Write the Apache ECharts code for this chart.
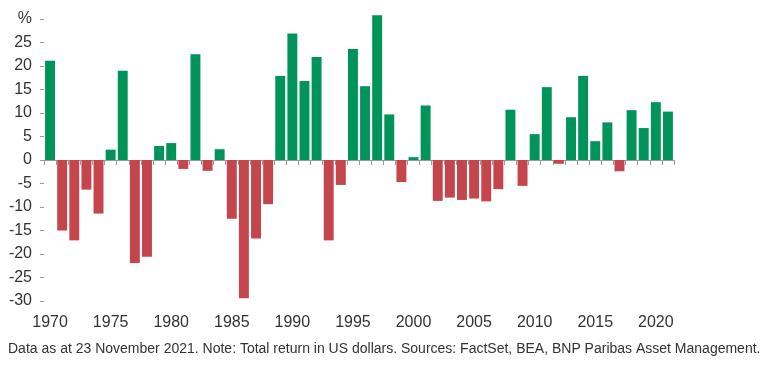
<!DOCTYPE html>
<html><head><meta charset="utf-8">
<script src="https://cdn.jsdelivr.net/npm/echarts@6/dist/echarts.min.js"></script>
<style>html,body{margin:0;padding:0;background:#fff}#c{width:774px;height:366px}</style>
</head><body><div id="c"></div>
<script>
const years = [];
for (let y = 1970; y <= 2021; y++) years.push(String(y));
const returns = [21.1,-15.0,-17.1,-6.3,-11.4,2.2,19.0,-21.9,-20.6,3.0,
  3.6,-1.9,22.5,-2.3,2.3,-12.5,-29.4,-16.7,-9.4,17.9,
  26.9,16.8,21.9,-17.1,-5.3,23.6,15.7,30.8,9.7,-4.7,
  0.6,11.6,-8.7,-8.0,-8.5,-8.2,-8.8,-6.2,10.7,-5.5,
  5.5,15.5,-0.8,9.1,17.9,4.0,8.0,-2.4,10.6,6.8,
  12.3,10.3];
const yTicks = { min: -30, max: 30, step: 5, topLabel: '%' };
const note = 'Data as at 23 November 2021. Note: Total return in US dollars. Sources: FactSet, BEA, BNP Paribas Asset Management.';
const GREEN = '#00935a', RED = '#c4454c';
const font = 'Liberation Sans';
const chart = echarts.init(document.getElementById('c'), null, {renderer: 'canvas'});
chart.setOption({
  animation: false,
  grid: { left: 44, right: 100, top: 19, bottom: 65, containLabel: false },
  xAxis: [{
    type: 'category', data: years, position: 'bottom',
    axisLine: { show: false, onZero: false }, axisTick: { show: false },
    axisLabel: { interval: 4, color: '#333', fontSize: 16, fontFamily: font, margin: 14 }
  }, {
    type: 'category', data: years, position: 'top',
    axisLine: { show: true, onZero: true, lineStyle: { color: '#9a9a9a', width: 1 } },
    axisTick: { show: true, inside: true, length: 5, interval: 0, lineStyle: { color: '#9a9a9a' } },
    axisLabel: { show: false }
  }],
  yAxis: {
    type: 'value', min: yTicks.min, max: yTicks.max, interval: yTicks.step,
    axisLine: { show: false },
    axisTick: { show: true, length: 4, lineStyle: { color: '#9a9a9a' } },
    splitLine: { show: false },
    axisLabel: { color: '#333', fontSize: 16, fontFamily: font, margin: 12,
      formatter: v => v === yTicks.max ? yTicks.topLabel : String(v) }
  },
  series: [{
    type: 'bar', xAxisIndex: 0, data: returns, barWidth: '82%', clip: false,
    itemStyle: { color: p => p.value >= 0 ? GREEN : RED }
  }],
  graphic: [{
    type: 'text', left: 8, top: 342,
    style: { text: note, fill: '#333', fontSize: 14, fontFamily: font }
  }]
});
</script></body></html>
